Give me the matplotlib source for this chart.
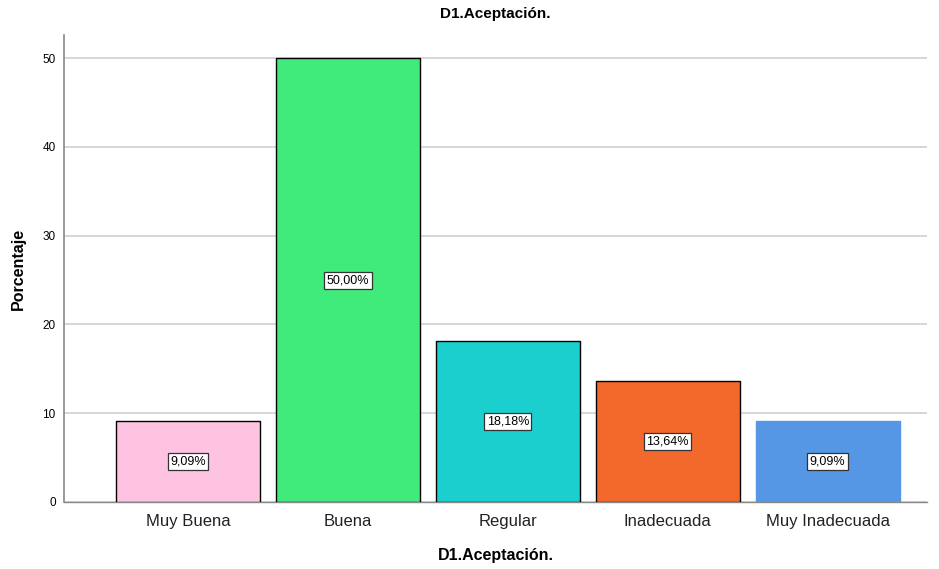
import numpy as np
import matplotlib.pyplot as plt

# datos del grafico
categorias = ['Muy Buena', 'Buena', 'Regular', 'Inadecuada', 'Muy Inadecuada']
porcentajes = [9.09, 50.00, 18.18, 13.64, 9.09]
etiquetas = ['9,09%', '50,00%', '18,18%', '13,64%', '9,09%']
colores = ['#FFC3E2', '#40EA7B', '#1CCFCF', '#F2692B', '#5597E5']
bordes = ['black', 'black', 'black', 'black', '#5597E5']

plt.rcParams['font.family'] = ['Liberation Sans', 'DejaVu Sans']

fig = plt.figure(figsize=(9.39, 5.69), dpi=100)
ax = fig.add_axes([0.0682, 0.1178, 0.9188, 0.8207])

x = np.arange(len(categorias))
barras = ax.bar(x, porcentajes, width=0.9, color=colores, edgecolor=bordes,
                linewidth=1.0, zorder=3)

for b, txt in zip(barras, etiquetas):
    ax.text(b.get_x() + b.get_width() / 2, b.get_height() / 2, txt,
            ha='center', va='center', fontsize=9, zorder=4,
            bbox=dict(boxstyle='square,pad=0.2', facecolor='white',
                      edgecolor='#333333', linewidth=0.9))

ax.set_xlim(-0.775, 4.62)
ax.set_ylim(0, 52.6)
ax.set_xticks(x)
ax.set_xticklabels(categorias, fontsize=12, color='#222222')
ax.set_yticks([0, 10, 20, 30, 40, 50])
ax.tick_params(axis='y', labelsize=8.5, length=0, pad=6)
ax.tick_params(axis='x', length=0, pad=9)

ax.grid(axis='y', color='#d0d0d0', linewidth=1.2, zorder=0)
for s in ['top', 'right']:
    ax.spines[s].set_visible(False)
ax.spines['left'].set_color('#888888')
ax.spines['bottom'].set_color('#888888')
ax.spines['left'].set_linewidth(1.2)
ax.spines['bottom'].set_linewidth(1.0)

ax.set_title('D1.Aceptación.', fontsize=11, fontweight='bold', pad=12)
ax.set_xlabel('D1.Aceptación.', fontsize=11.5, fontweight='bold', labelpad=13)
ax.set_ylabel('Porcentaje', fontsize=11.5, fontweight='bold', labelpad=12)

fig.savefig('out.png', dpi=100)
